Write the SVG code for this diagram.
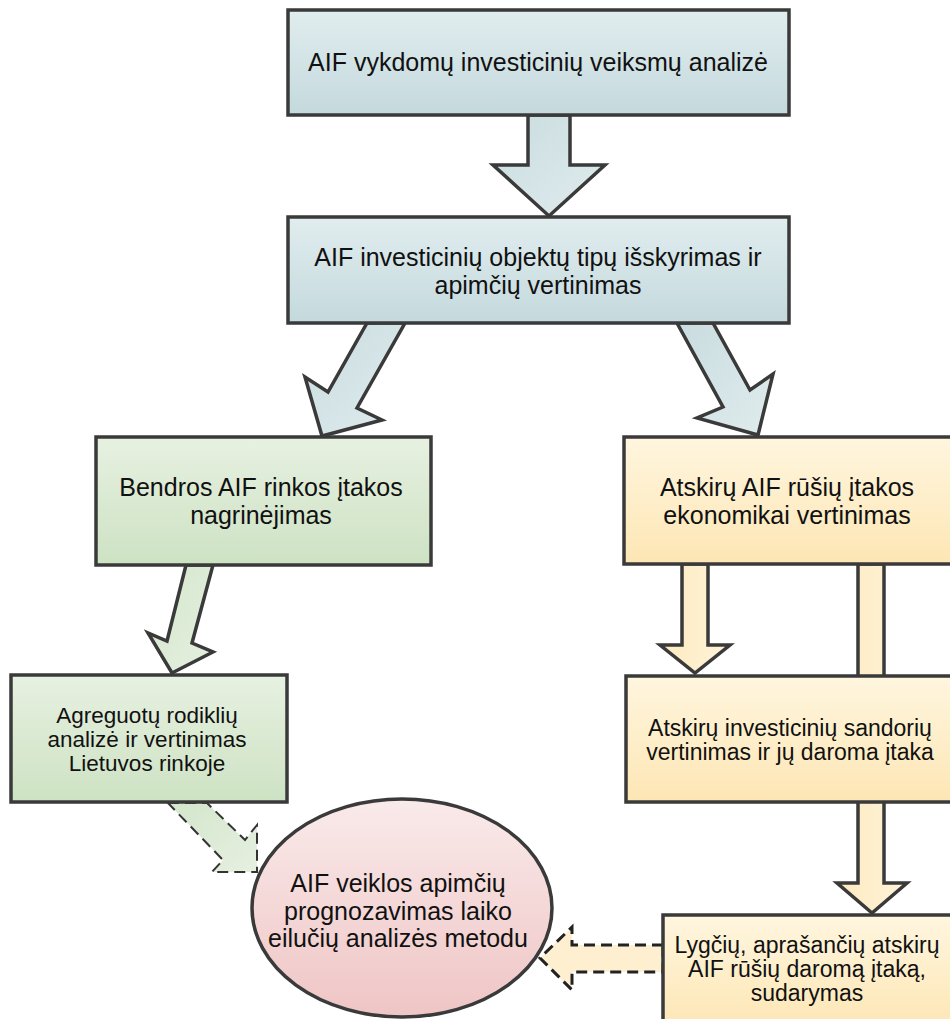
<svg xmlns="http://www.w3.org/2000/svg" width="950" height="1019" viewBox="0 0 950 1019">
<defs>
<linearGradient id="gBlue" x1="0" y1="0" x2="0" y2="1"><stop offset="0" stop-color="#e1edef"/><stop offset="1" stop-color="#c4d9dd"/></linearGradient>
<linearGradient id="gGreen" x1="0" y1="0" x2="0" y2="1"><stop offset="0" stop-color="#e7f1e1"/><stop offset="1" stop-color="#cde2c3"/></linearGradient>
<linearGradient id="gYellow" x1="0" y1="0" x2="0" y2="1"><stop offset="0" stop-color="#fff6df"/><stop offset="1" stop-color="#fde6b4"/></linearGradient>
<linearGradient id="gPink" x1="0" y1="0" x2="0" y2="1"><stop offset="0" stop-color="#faeaea"/><stop offset="1" stop-color="#efc5c5"/></linearGradient>
<linearGradient id="gBlueA" x1="0" y1="0" x2="1" y2="1"><stop offset="0" stop-color="#c9dcdf"/><stop offset="1" stop-color="#e0ecee"/></linearGradient>
<linearGradient id="gGreenA" x1="0" y1="0" x2="1" y2="1"><stop offset="0" stop-color="#d3e6cb"/><stop offset="1" stop-color="#e6f0e0"/></linearGradient>
<linearGradient id="gYellowA" x1="0" y1="0" x2="1" y2="0"><stop offset="0" stop-color="#fdeac0"/><stop offset="1" stop-color="#fff3d8"/></linearGradient>
</defs>
<style>
.box{stroke:#3a3a3a;stroke-width:3.5}
.arr{stroke:#3a3a3a;stroke-width:3.5;stroke-linejoin:miter}
.dash1{stroke:#333;stroke-width:2;stroke-dasharray:11 6;fill:url(#gGreenA)}
.dash2{stroke:#222;stroke-width:3;stroke-dasharray:11 6;fill:#fdefcf}
text{font-family:"Liberation Sans",Arial,sans-serif;fill:#111;text-anchor:middle}
.t25{font-size:25px}
.t23{font-size:23px}
.t22{font-size:22.5px}
</style>
<g id="connectors">
<polygon class="arr" fill="url(#gBlueA)" points="528,115 570,115 570,165 605,165 549,216 493,165 528,165"/>
<polygon class="arr" fill="url(#gBlueA)" points="367,323 405,323 357,408 382,420 322,436 305,377 328,392"/>
<polygon class="arr" fill="url(#gBlueA)" points="677,323 713,323 750,390 773,374 758,435 697,418 723,407"/>
<polygon class="arr" fill="url(#gGreenA)" points="186,565 213,565 192,643 213,652 172,673 148,633 167,641"/>
<polygon class="arr" fill="url(#gYellowA)" points="682,564 708,564 708,645 730,645 695,673 660,645 682,645"/>
<polygon class="arr" fill="url(#gYellowA)" points="858,564 884,564 884,883 907,883 872,913 837,883 858,883"/>
<polygon class="dash1" points="168,803 207,803 245,840 257,825 257,872 212,872 223,860"/>
<polygon class="dash2" points="663,945 572,945 572,927 540,958 572,990 572,972 663,972"/>
</g>
<g id="n1">
<rect class="box" x="288" y="10" width="501" height="105" fill="url(#gBlue)"/>
<text class="t25" x="538" y="71">AIF vykdomų investicinių veiksmų analizė</text>
</g>
<g id="n2">
<rect class="box" x="288" y="217" width="501" height="106" fill="url(#gBlue)"/>
<text class="t25" x="538" y="266">AIF investicinių objektų tipų išskyrimas ir</text>
<text class="t25" x="538" y="294">apimčių vertinimas</text>
</g>
<g id="n3">
<rect class="box" x="96" y="437" width="335" height="128" fill="url(#gGreen)"/>
<text class="t25" x="261" y="496">Bendros AIF rinkos įtakos</text>
<text class="t25" x="261" y="524">nagrinėjimas</text>
</g>
<g id="n4">
<rect class="box" x="624" y="437" width="345" height="127" fill="url(#gYellow)"/>
<text class="t25" x="787" y="496">Atskirų AIF rūšių įtakos</text>
<text class="t25" x="787" y="524">ekonomikai vertinimas</text>
</g>
<g id="n5">
<rect class="box" x="11" y="675" width="276" height="127" fill="url(#gGreen)"/>
<text class="t22" x="147" y="723">Agreguotų rodiklių</text>
<text class="t22" x="147" y="747">analizė ir vertinimas</text>
<text class="t22" x="147" y="771">Lietuvos rinkoje</text>
</g>
<g id="n6">
<rect class="box" x="626" y="676" width="345" height="126" fill="url(#gYellow)"/>
<text class="t23" x="790" y="736">Atskirų investicinių sandorių</text>
<text class="t23" x="790" y="760">vertinimas ir jų daroma įtaka</text>
</g>
<g id="n7">
<rect class="box" x="663" y="915" width="310" height="115" fill="url(#gYellow)"/>
<text class="t23" x="807" y="953">Lygčių, aprašančių atskirų</text>
<text class="t23" x="807" y="977">AIF rūšių daromą įtaką,</text>
<text class="t23" x="807" y="1001">sudarymas</text>
</g>
<g id="n8">
<ellipse class="box" cx="402" cy="908" rx="150" ry="109" fill="url(#gPink)"/>
<text class="t25" x="398" y="892">AIF veiklos apimčių</text>
<text class="t25" x="398" y="920">prognozavimas laiko</text>
<text class="t25" x="398" y="947">eilučių analizės metodu</text>
</g>
</svg>
